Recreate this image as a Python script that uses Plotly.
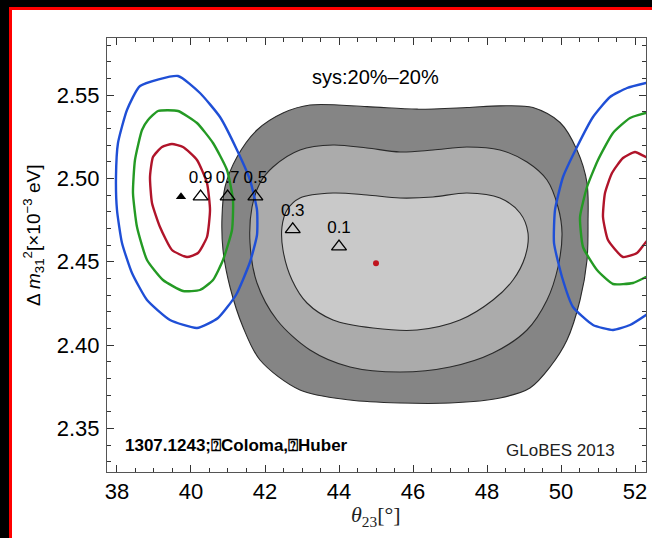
import plotly.graph_objects as go

# ---- data (theta23 [deg], dm31^2 [1e-3 eV^2]) ----
outer_x = [43.216, 44.757, 46.108, 47.459, 48.351, 49.243, 49.973, 50.432, 50.703, 50.730, 50.703, 50.514,
           50.162, 49.703, 49.162, 48.351, 47.0, 45.649, 44.297, 42.946, 41.865, 41.405, 41.054, 40.865,
           40.838, 40.919, 41.243, 41.784, 42.486]
outer_y = [2.544, 2.543, 2.5415, 2.5425, 2.5435, 2.5425, 2.5335, 2.517, 2.4972, 2.4732, 2.451, 2.427,
           2.403, 2.3868, 2.3742, 2.3682, 2.3652, 2.3652, 2.367, 2.373, 2.391, 2.4108, 2.4348, 2.457,
           2.4768, 2.4948, 2.5128, 2.529, 2.5392]

middle_x = [42.946, 43.838, 44.757, 45.649, 46.541, 47.459, 48.351, 49.081, 49.622, 49.919, 50.027, 49.919,
            49.622, 49.081, 48.162, 47.0, 45.649, 44.297, 43.216, 42.324, 41.784, 41.595, 41.649, 41.865, 42.216]
middle_y = [2.517, 2.52, 2.5182, 2.5158, 2.517, 2.5188, 2.517, 2.5098, 2.499, 2.4828, 2.4672, 2.4468,
            2.427, 2.409, 2.3952, 2.3868, 2.3838, 2.3868, 2.397, 2.415, 2.4372, 2.4612, 2.4828, 2.4972, 2.5068]

inner_x = [42.946, 43.838, 44.757, 45.649, 46.541, 47.459, 48.351, 48.892, 49.108, 49.027, 48.703, 48.162,
           47.270, 46.108, 44.919, 43.838, 43.135, 42.730, 42.486, 42.459, 42.595]
inner_y = [2.4882, 2.4912, 2.49, 2.4882, 2.4888, 2.4912, 2.4882, 2.4792, 2.4672, 2.4528, 2.439, 2.427,
           2.415, 2.409, 2.4102, 2.415, 2.4252, 2.439, 2.457, 2.4708, 2.481]

blue_left_x = [39.649, 40.243, 40.784, 41.243, 41.595, 41.784, 41.784, 41.595, 41.216, 40.730, 40.162, 39.432,
               38.811, 38.405, 38.135, 38.0, 37.973, 38.027, 38.270, 38.622]
blue_left_y = [2.5614, 2.5512, 2.5368, 2.517, 2.499, 2.481, 2.466, 2.4498, 2.43, 2.4162, 2.4102, 2.415,
               2.427, 2.4432, 2.4612, 2.481, 2.5008, 2.5212, 2.541, 2.5554]

green_left_x = [39.108, 39.649, 40.162, 40.595, 40.973, 41.135, 41.108, 40.865, 40.595, 40.243, 39.784, 39.243,
                38.811, 38.541, 38.432, 38.486, 38.676, 38.838]
green_left_y = [2.5404, 2.5404, 2.5332, 2.5212, 2.505, 2.487, 2.469, 2.451, 2.439, 2.433, 2.4324, 2.439,
                2.451, 2.4708, 2.4912, 2.511, 2.529, 2.535]

red_left_x = [39.486, 39.784, 40.162, 40.432, 40.514, 40.432, 40.189, 39.892, 39.486, 39.162, 38.946, 38.892,
              38.973, 39.216]
red_left_y = [2.5206, 2.5188, 2.511, 2.4972, 2.481, 2.4648, 2.4552, 2.4528, 2.457, 2.4708, 2.4852, 2.5008,
              2.5128, 2.5188]

blue_right_x = [52.676, 52.297, 51.784, 51.324, 50.865, 50.432, 50.054, 49.838, 49.811, 50.027, 50.324, 50.865,
                51.405, 51.865, 52.297, 52.676]
blue_right_y = [2.559, 2.5572, 2.5542, 2.5488, 2.5368, 2.5188, 2.5008, 2.481, 2.4612, 2.4408, 2.4228, 2.412,
                2.409, 2.412, 2.418, 2.424]

green_right_x = [52.676, 52.297, 51.865, 51.405, 51.0, 50.703, 50.514, 50.595, 50.973, 51.405, 51.946, 52.297, 52.676]
green_right_y = [2.5398, 2.5392, 2.5362, 2.5272, 2.511, 2.4948, 2.4768, 2.4588, 2.445, 2.4366, 2.4372, 2.4408, 2.445]

red_right_x = [52.676, 52.297, 52.0, 51.676, 51.378, 51.189, 51.135, 51.270, 51.676, 52.054, 52.297, 52.676]
red_right_y = [2.511, 2.5128, 2.5158, 2.5122, 2.5032, 2.4912, 2.4768, 2.463, 2.4528, 2.4552, 2.4618, 2.469]

true_x = [39.73]
true_y = [2.489]

tri_labels = ["0.9", "0.7", "0.5", "0.3", "0.1"]
tri_x = [40.26, 40.99, 41.74, 42.75, 44.0]
tri_y = [2.489, 2.489, 2.489, 2.4694, 2.459]

best_x = [45.0]
best_y = [2.449]

x_ticks = [38, 40, 42, 44, 46, 48, 50, 52]
y_ticks = [2.35, 2.40, 2.45, 2.50, 2.55]

# ---- layout geometry (pixels) ----
W, H = 652, 538
L, R, T, B = 107, 6, 38, 66
PW, PH = W - L - R, H - T - B


def px(x):
    return (x - L) / PW


def py(y):
    return (H - B - y) / PH


fig = go.Figure()


def closed(a):
    return list(a) + [a[0]]


for xs, ys, col in [(outer_x, outer_y, "#858585"), (middle_x, middle_y, "#ababab"), (inner_x, inner_y, "#c9c9c9")]:
    fig.add_trace(go.Scatter(x=closed(xs), y=closed(ys), mode="lines", fill="toself", fillcolor=col,
                             line=dict(color="#2a2a2a", width=1.1, shape="spline", smoothing=0.9),
                             hoverinfo="skip", showlegend=False))

BLUE, GREEN, RED = "#1f4fd6", "#249a24", "#b0142a"
for xs, ys, col, cl in [(blue_left_x, blue_left_y, BLUE, True), (green_left_x, green_left_y, GREEN, True),
                        (red_left_x, red_left_y, RED, True), (blue_right_x, blue_right_y, BLUE, False),
                        (green_right_x, green_right_y, GREEN, False), (red_right_x, red_right_y, RED, False)]:
    fig.add_trace(go.Scatter(x=closed(xs) if cl else xs, y=closed(ys) if cl else ys, mode="lines",
                             line=dict(color=col, width=2.4, shape="spline", smoothing=0.5),
                             hoverinfo="skip", showlegend=False))

fig.add_trace(go.Scatter(x=true_x, y=true_y, mode="markers",
                         marker=dict(symbol="triangle-up", size=9, color="black"), showlegend=False))
fig.add_trace(go.Scatter(x=tri_x, y=tri_y, mode="markers+text", text=tri_labels, textposition="top center",
                         textfont=dict(family="Liberation Sans, Arial", size=17, color="black"),
                         marker=dict(symbol="triangle-up-open", size=13, color="black", line=dict(width=1.3)),
                         showlegend=False))
fig.add_trace(go.Scatter(x=best_x, y=best_y, mode="markers",
                         marker=dict(symbol="circle", size=6, color="#c0141e"), showlegend=False))

axis_common = dict(showline=True, linecolor="#555555", linewidth=1, mirror="allticks", ticks="inside",
                   ticklen=7, tickcolor="#333333", showgrid=False, zeroline=False, automargin=False,
                   tickfont=dict(family="Liberation Sans, Arial", size=22, color="black"))
fig.update_xaxes(range=[37.73, 52.297], tickvals=x_ticks, ticktext=[str(v) for v in x_ticks],
                 minor=dict(dtick=0.5, tick0=38, ticks="inside", ticklen=4, tickcolor="#333333"),
                 **axis_common)
fig.update_yaxes(range=[2.3238, 2.5842], tickvals=y_ticks, ticktext=["%.2f" % v for v in y_ticks],
                 minor=dict(dtick=0.01, tick0=2.35, ticks="inside", ticklen=4, tickcolor="#333333"),
                 ticklabelstandoff=2, **axis_common)

annotations = [
    dict(text="Δ <i>m</i><sub>31</sub><sup>2</sup>[×10<sup>−3</sup> eV]", x=px(33), y=py(236), textangle=-90,
         font=dict(family="Liberation Sans, Arial", size=19, color="black")),
    dict(text="<i>θ</i><sub>23</sub>[°]", x=px(376), y=py(516),
         font=dict(family="Liberation Serif, Times New Roman", size=22, color="#222222")),
    dict(text="sys:20%–20%", x=px(375), y=py(77),
         font=dict(family="Liberation Sans, Arial", size=20, color="black")),
    dict(text="<b>1307.1243;⍰Coloma,⍰Huber</b>", x=px(123), y=py(445), xanchor="left",
         font=dict(family="Liberation Sans, Arial", size=17, color="black")),
    dict(text="GLoBES 2013", x=px(617), y=py(450), xanchor="right",
         font=dict(family="Liberation Sans, Arial", size=17, color="#222222")),
]
for a in annotations:
    a.setdefault("xanchor", "center")
    a.update(xref="paper", yref="paper", yanchor="middle", showarrow=False)

# dark frame around the white page with a red inner edge (top and left only)
frame = [
    dict(x0=px(-20), x1=px(700), y0=py(7), y1=py(-20), fillcolor="black"),
    dict(x0=px(-20), x1=px(9), y0=py(700), y1=py(-20), fillcolor="black"),
    dict(x0=px(9), x1=px(700), y0=py(10), y1=py(7), fillcolor="#ff0000"),
    dict(x0=px(9), x1=px(12), y0=py(700), y1=py(7), fillcolor="#ff0000"),
]
for s in frame:
    s.update(type="rect", xref="paper", yref="paper", line=dict(width=0), layer="below")

fig.update_layout(
    width=W, height=H, margin=dict(l=L, r=R, t=T, b=B, pad=0),
    paper_bgcolor="white", plot_bgcolor="white", showlegend=False,
    annotations=annotations, shapes=frame,
)

fig.write_html(
    "out.html", config={"displayModeBar": False},
    post_script=("document.documentElement.style.background='white';"
                 "document.body.style.background='white';"
                 "document.body.style.margin='0px';document.body.style.overflow='hidden';"))
